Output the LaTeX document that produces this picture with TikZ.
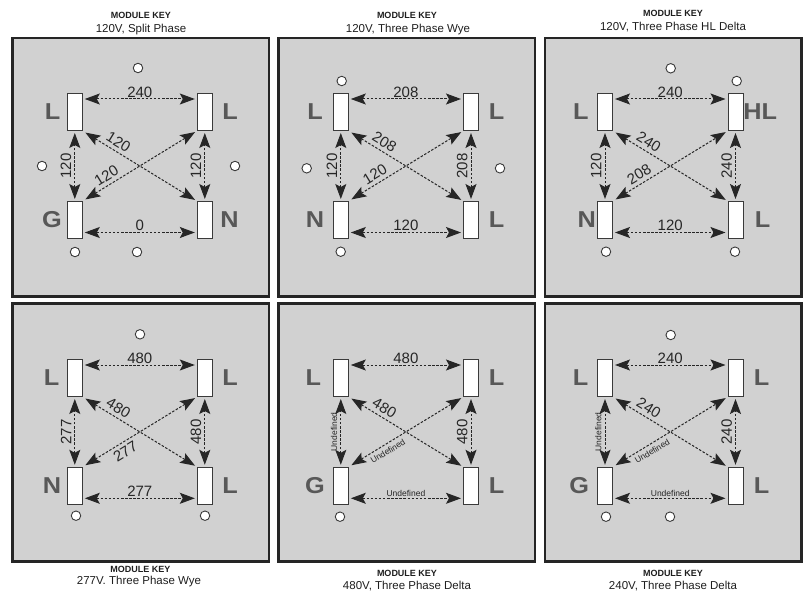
\documentclass[tikz,border=0pt]{standalone}
\usepackage{fontspec}
\setmainfont{Liberation Sans}
\usepackage{graphicx}
\usetikzlibrary{arrows.meta,calc}
\definecolor{panelfill}{HTML}{D1D1D1}
\definecolor{panelborder}{HTML}{252525}
\definecolor{slotborder}{HTML}{3A3A3A}
\definecolor{pincol}{HTML}{585858}
\definecolor{wirecol}{HTML}{262626}
\definecolor{captioncol}{HTML}{1E1E1E}
\newcommand\widepin[1]{\scalebox{1.1}[1]{#1}}
\newcommand\undefd{\fontsize{8.5}{8.5}\selectfont Undefined}
\tikzset{
  panel/.style={draw=panelborder, line width=2.5pt, fill=panelfill, minimum width=256.5pt, minimum height=258pt, inner sep=0pt},
  slot/.style={draw=slotborder, line width=1pt, fill=white, minimum width=15pt, minimum height=37pt, inner sep=0pt},
  hole/.style={circle, draw=slotborder, line width=0.9pt, fill=white, minimum size=9.5pt, inner sep=0pt},
  pinlab/.style={text=pincol, font=\fontsize{23}{23}\selectfont\bfseries, inner sep=0pt},
  volt/.style={dash pattern=on 2.5pt off 1.6pt, line width=1pt, draw=wirecol,
    {Stealth[length=15pt,width=11pt,inset=3pt]}-{Stealth[length=15pt,width=11pt,inset=3pt]},
    shorten <=2pt, shorten >=2pt},
  vlab/.style={font=\fontsize{15}{15}\selectfont, text=wirecol, inner sep=1pt},
  keyhead/.style={font=\fontsize{9}{9}\selectfont\bfseries, text=captioncol, inner sep=0pt},
  keysub/.style={font=\fontsize{11.5}{11.5}\selectfont, text=captioncol, inner sep=0pt},
}
% prefix, x left, x right, y top, y bottom
\newcommand\slots[5]{%
  \node[slot] (#1tl) at (#2,#4) {};
  \node[slot] (#1tr) at (#3,#4) {};
  \node[slot] (#1bl) at (#2,#5) {};
  \node[slot] (#1br) at (#3,#5) {};
}
% prefix, top, bottom, left, right, TL-BR, BL-TR, side, pos
\newcommand\wires[9]{%
  \draw[volt] ($(#1tl.north east)+(0,6)$) -- node[vlab, above]{#2} ($(#1tr.north west)+(0,6)$);
  \draw[volt] ($(#1bl.south east)+(0,-6.5)$) -- node[vlab, above]{#3} ($(#1br.south west)+(0,-6.5)$);
  \draw[volt] (#1bl.north) -- node[vlab, above=2pt, sloped]{#4} (#1tl.south);
  \draw[volt] (#1br.north) -- node[vlab, above=2pt, sloped]{#5} (#1tr.south);
  \draw[volt, shorten <=3pt] (#1tl.south east) -- node[vlab, above=2.5pt, sloped, pos=0.27]{#6} (#1br.north west);
  \draw[volt, shorten <=3pt] (#1bl.north east) -- node[vlab, #8, sloped, pos=#9]{#7} (#1tr.south west);
}
\begin{document}
\begin{tikzpicture}[x=1pt,y=-1pt]
\useasboundingbox (0,0) rectangle (804,594);
% panels
\node[panel] (p1) at (140.5,167.25) {};
\node[panel] (p2) at (406.8,167.25) {};
\node[panel] (p3) at (673,167.25) {};
\node[panel] (p4) at (140.5,432.25) {};
\node[panel] (p5) at (406.8,432.25) {};
\node[panel] (p6) at (673,432.25) {};
% captions
\node[keyhead] (c1a) at (141,15) {MODULE KEY};
\node[keysub] (c1b) at (141,29.5) {120V, Split Phase};
\node[keyhead] (c2a) at (407,15) {MODULE KEY};
\node[keysub] (c2b) at (408,29.5) {120V, Three Phase Wye};
\node[keyhead] (c3a) at (673,13) {MODULE KEY};
\node[keysub] (c3b) at (673,27) {120V, Three Phase HL Delta};
\node[keyhead] (c4a) at (140.5,569) {MODULE KEY};
\node[keysub] (c4b) at (139,582) {277V. Three Phase Wye};
\node[keyhead] (c5a) at (407,573) {MODULE KEY};
\node[keysub] (c5b) at (407,586) {480V, Three Phase Delta};
\node[keyhead] (c6a) at (673,573) {MODULE KEY};
\node[keysub] (c6b) at (673,586) {240V, Three Phase Delta};
% slots
\slots{a}{74.8}{204.8}{112}{220}
\slots{b}{340.8}{471}{112}{220}
\slots{c}{605}{735.5}{112}{220}
\slots{d}{74.8}{204.8}{378}{485.8}
\slots{e}{340.8}{471}{378}{485.8}
\slots{f}{605}{735.5}{378}{485.8}
% holes
\node[hole] (ah1) at (138,68) {};
\node[hole] (ah2) at (42,166) {};
\node[hole] (ah3) at (235,166) {};
\node[hole] (ah4) at (75,252) {};
\node[hole] (ah5) at (137,252) {};
\node[hole] (bh1) at (341.7,81) {};
\node[hole] (bh2) at (306.7,168.3) {};
\node[hole] (bh3) at (500,168.3) {};
\node[hole] (bh4) at (340.7,251.7) {};
\node[hole] (ch1) at (670.7,68.3) {};
\node[hole] (ch2) at (736.7,81) {};
\node[hole] (ch3) at (606,251.7) {};
\node[hole] (ch4) at (735,251.7) {};
\node[hole] (dh1) at (140,334.3) {};
\node[hole] (dh2) at (76,515.7) {};
\node[hole] (dh3) at (205,515.7) {};
\node[hole] (eh1) at (340,516.7) {};
\node[hole] (fh1) at (670.7,335) {};
\node[hole] (fh2) at (606,516.7) {};
\node[hole] (fh3) at (670,516.7) {};
% pin letters
\node[pinlab] (al1) at (52.5,112) {\widepin{L}};
\node[pinlab] (al2) at (230,112) {\widepin{L}};
\node[pinlab] (al3) at (52,220) {\widepin{G}};
\node[pinlab] (al4) at (229.5,220) {\widepin{N}};
\node[pinlab] (bl1) at (315,112) {\widepin{L}};
\node[pinlab] (bl2) at (496.7,112) {\widepin{L}};
\node[pinlab] (bl3) at (315,220) {\widepin{N}};
\node[pinlab] (bl4) at (496.7,220) {\widepin{L}};
\node[pinlab] (cl1) at (580.8,112) {\widepin{L}};
\node[pinlab] (cl2) at (760.3,112) {\widepin{HL}};
\node[pinlab] (cl3) at (586.7,220) {\widepin{N}};
\node[pinlab] (cl4) at (762.5,220) {\widepin{L}};
\node[pinlab] (dl1) at (51.7,378) {\widepin{L}};
\node[pinlab] (dl2) at (230,378) {\widepin{L}};
\node[pinlab] (dl3) at (52,486) {\widepin{N}};
\node[pinlab] (dl4) at (230,486) {\widepin{L}};
\node[pinlab] (el1) at (313.3,378) {\widepin{L}};
\node[pinlab] (el2) at (496.7,378) {\widepin{L}};
\node[pinlab] (el3) at (315,486) {\widepin{G}};
\node[pinlab] (el4) at (496.7,486) {\widepin{L}};
\node[pinlab] (fl1) at (580.7,378) {\widepin{L}};
\node[pinlab] (fl2) at (761.7,378) {\widepin{L}};
\node[pinlab] (fl3) at (579.3,486) {\widepin{G}};
\node[pinlab] (fl4) at (761.7,486) {\widepin{L}};
% wires
\wires{a}{240}{0}{120}{120}{120}{120}{above=2.5pt}{0.25}
\wires{b}{208}{120}{120}{208}{208}{120}{above=2.5pt}{0.27}
\wires{c}{240}{120}{120}{240}{240}{208}{above=2.5pt}{0.27}
\wires{d}{480}{277}{277}{480}{480}{277}{below=2.5pt}{0.33}
\wires{e}{480}{\undefd}{\undefd}{480}{480}{\undefd}{below=2.5pt}{0.31}
\wires{f}{240}{\undefd}{\undefd}{240}{240}{\undefd}{below=2.5pt}{0.31}
\end{tikzpicture}
\end{document}
